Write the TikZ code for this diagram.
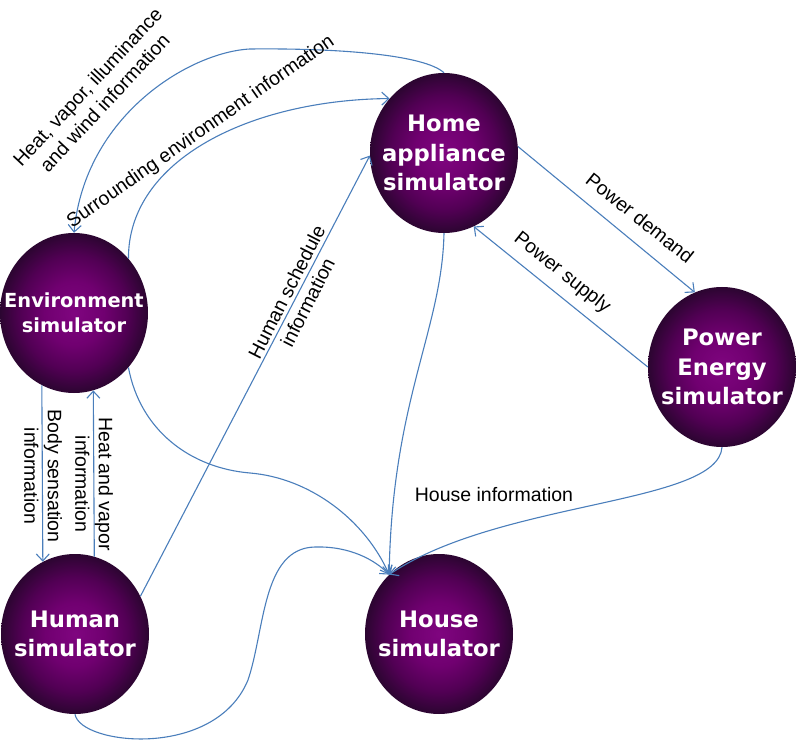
\documentclass[tikz,border=0pt]{standalone}
\usepackage{fontspec}
\setmainfont{Liberation Sans}
\newfontfamily\orbfont{DejaVu Sans}
\usetikzlibrary{shapes.geometric,arrows.meta}
\definecolor{linkblue}{RGB}{74,126,187}
\definecolor{orbA}{rgb}{0.50,0.02,0.50}
\definecolor{orbB}{rgb}{0.44,0.00,0.44}
\definecolor{orbC}{rgb}{0.32,0.00,0.33}
\definecolor{orbD}{rgb}{0.17,0.02,0.19}
\pgfdeclareradialshading{orbshade}{\pgfpoint{0bp}{0bp}}{%
  color(0bp)=(orbA);
  color(10bp)=(orbB);
  color(18bp)=(orbC);
  color(25bp)=(orbD);
  color(50bp)=(orbD)}
\tikzset{
  orb/.style={ellipse, minimum width=148pt, minimum height=160pt, inner sep=0pt,
    shade, shading=orbshade},
  orbtxt/.style={text=white, align=center, inner sep=0pt,
    font=\orbfont\bfseries\fontsize{22.7}{29.5}\selectfont},
  orbtxtsmall/.style={orbtxt, font=\orbfont\bfseries\fontsize{19.4}{25}\selectfont},
  link/.style={draw=linkblue, line width=1.1pt, -{Straight Barb[length=7pt,width=13pt,line width=1.1pt]}},
  lbl/.style={align=center, inner sep=0pt, text=black,
    font=\fontsize{19.5}{23.5}\selectfont}
}
\begin{document}
\begin{tikzpicture}[x=1pt,y=-1pt]
\useasboundingbox (0,0) rectangle (796,746);
% nodes
\node[orb] (env) at (74,313) {};
\node[orb] (home) at (444,153) {};
\node[orb] (pow) at (722,367) {};
\node[orb] (human) at (75,634) {};
\node[orb] (house) at (439,634) {};
\node[orbtxtsmall] (envt) at (env.center) {Environment\\simulator};
\node[orbtxt] (homet) at (home.center) {Home\\appliance\\simulator};
\node[orbtxt] (powt) at (pow.center) {Power\\Energy\\simulator};
\node[orbtxt] (humant) at (human.center) {Human\\simulator};
\node[orbtxt] (houset) at (house.center) {House\\simulator};
% connectors
\draw[link] (home.north) .. controls (425,55) and (340,48) .. (250,49)
   .. controls (190,52) and (85,115) .. (env.north);
\draw[link] (env.45) .. controls (128,160) and (250,100) .. (home.135);
\draw[link] (human.30) -- (home.182);
\draw[link] (home.5) -- (pow.110);
\draw[link] (pow.180) -- (home.-68);
\draw[link] (env.-114) -- (human.114);
\draw[link] (human.76) -- (env.-76);
\draw[link] (pow.south) .. controls (718,505) and (500,500) .. (house.130);
\draw[link] (home.south) .. controls (442,330) and (392,400) .. (house.130);
\draw[link] (env.-45) .. controls (140,430) and (190,468) .. (250,473)
   .. controls (310,478) and (365,520) .. (house.130);
\draw[link] (human.south) .. controls (80,745) and (215,760) .. (248,680)
   .. controls (265,630) and (262,548) .. (315,547)
   .. controls (350,546) and (375,560) .. (house.130);
% labels
\node[lbl, rotate=47] (l1) at (96,95) {Heat, vapor, illuminance\\and wind information};
\node[lbl, rotate=35] (l2) at (201,132) {Surrounding environment information};
\node[lbl, rotate=63] (l3) at (297,297) {Human schedule\\information};
\node[lbl, rotate=-90] (l4) at (43,476) {Body sensation\\information};
\node[lbl, rotate=-90] (l5) at (94,484) {Heat and vapor\\information};
\node[lbl, rotate=-38.5] (l6) at (640,218) {Power demand};
\node[lbl, rotate=-38.5] (l7) at (562,273) {Power supply};
\node[lbl] (l8) at (494,495) {House information};
\end{tikzpicture}
\end{document}
